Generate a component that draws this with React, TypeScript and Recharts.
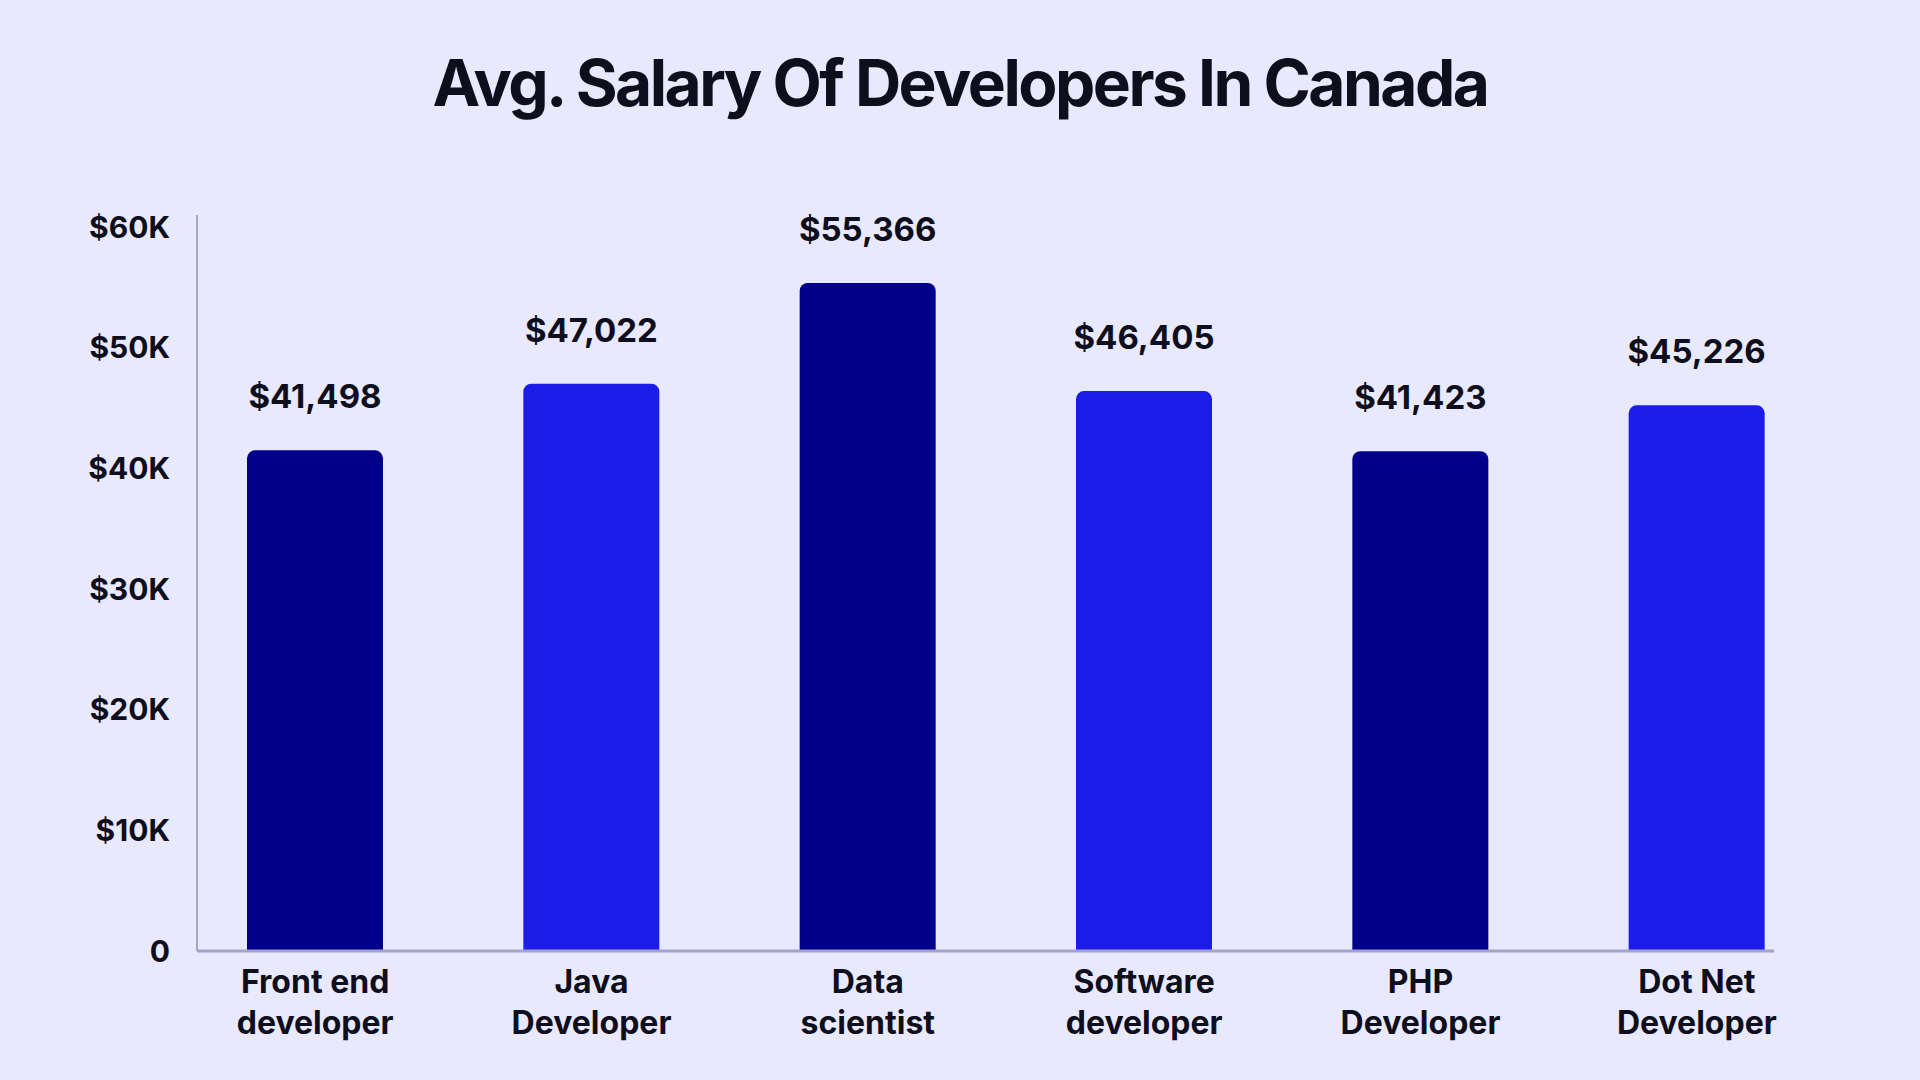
import React from 'react';
import { BarChart, Bar, XAxis, YAxis, Cell, LabelList } from 'recharts';

const categories = [
  'Front end developer',
  'Java Developer',
  'Data scientist',
  'Software developer',
  'PHP Developer',
  'Dot Net Developer',
];
const categoryLines = [
  ['Front end', 'developer'],
  ['Java', 'Developer'],
  ['Data', 'scientist'],
  ['Software', 'developer'],
  ['PHP', 'Developer'],
  ['Dot Net', 'Developer'],
];
const salaries = [41498, 47022, 55366, 46405, 41423, 45226];
const valueLabels = ['$41,498', '$47,022', '$55,366', '$46,405', '$41,423', '$45,226'];
const yTicks = [0, 10000, 20000, 30000, 40000, 50000, 60000];
const yTickLabels = ['0', '$10K', '$20K', '$30K', '$40K', '$50K', '$60K'];
const barColors = ['#00008B', '#1C1CE8', '#00008B', '#1C1CE8', '#00008B', '#1C1CE8'];

const data = categories.map((name, i) => ({
  name,
  lines: categoryLines[i],
  salary: salaries[i],
  label: valueLabels[i],
}));

const FONT = 'Inter, "Noto Sans", sans-serif';
const TEXT = '#0E0E1C';
const BG = '#E8E9FD';
const AXIS = '#A3A3CB';

const XTick = (props: any) => {
  const { x, y, index } = props;
  const lines = categoryLines[index] || [];
  return (
    <text x={x} y={y} textAnchor="middle" fill={TEXT} fontFamily={FONT} fontWeight={700} fontSize={32}>
      {lines.map((l, i) => (
        <tspan key={i} x={x} y={y + 42 + i * 41}>
          {l}
        </tspan>
      ))}
    </text>
  );
};

export default function App() {
  return (
    <div style={{ position: 'absolute', left: 0, top: 0, width: 1920, height: 1080, background: BG, overflow: 'hidden' }}>
      <div
        style={{
          position: 'absolute',
          left: 0,
          top: 40,
          width: 1920,
          textAlign: 'center',
          fontFamily: FONT,
          fontWeight: 700,
          fontSize: 64,
          letterSpacing: -2.5,
          color: TEXT,
          lineHeight: '86px',
        }}
      >
        Avg. Salary Of Developers In Canada
      </div>
      <div style={{ position: 'absolute', left: 0, top: 0 }}>
        <BarChart
          width={1920}
          height={1080}
          data={data}
          margin={{ top: 215, right: 146, bottom: 0, left: 0 }}
        >
          <XAxis
            dataKey="name"
            axisLine={{ stroke: AXIS, strokeWidth: 3 }}
            tickLine={false}
            tickSize={0}
            tickMargin={0}
            interval={0}
            height={129}
            padding={{ left: -20, right: -61 }}
            tick={<XTick />}
          />
          <YAxis
            width={197}
            domain={[0, 61000]}
            ticks={yTicks}
            interval={0}
            axisLine={{ stroke: AXIS, strokeWidth: 2 }}
            tickLine={false}
            tickSize={0}
            tickMargin={27}
            tickFormatter={(v: number) => yTickLabels[yTicks.indexOf(v)]}
            tick={{ fill: TEXT, fontFamily: FONT, fontWeight: 700, fontSize: 30 }}
          />
          <Bar dataKey="salary" barSize={136} radius={[8, 8, 0, 0]} isAnimationActive={false}>
            {data.map((d, i) => (
              <Cell key={d.name} fill={barColors[i]} />
            ))}
            <LabelList
              dataKey="label"
              position="top"
              offset={42}
              fill={TEXT}
              fontFamily={FONT}
              fontWeight={700}
              fontSize={33}
            />
          </Bar>
        </BarChart>
      </div>
    </div>
  );
}
